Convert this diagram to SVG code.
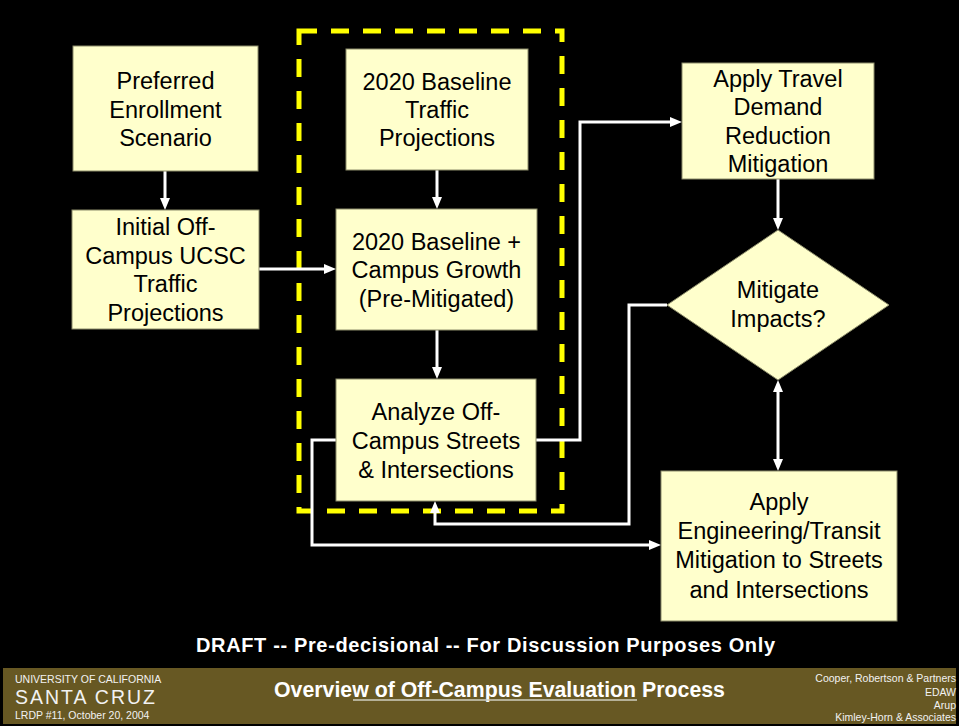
<svg xmlns="http://www.w3.org/2000/svg" width="959" height="726" viewBox="0 0 959 726">
<defs>
<style>
.box{fill:#FFFFCC;stroke:#8C8C6A;stroke-width:1}
.t{font-family:"Liberation Sans",Arial,sans-serif;font-size:23.5px;fill:#000;text-anchor:middle}
.c{fill:none;stroke:#FFFFFF;stroke-width:3}
.f{font-family:"Liberation Sans",Arial,sans-serif;fill:#F2F2F2}
.b{font-family:"Liberation Sans",Arial,sans-serif;font-weight:bold;fill:#FFFFFF}
</style>
<marker id="ah" viewBox="0 0 12 10" refX="2" refY="5" markerWidth="12" markerHeight="10" markerUnits="userSpaceOnUse" orient="auto-start-reverse">
<path d="M0,0 L12,5 L0,10 Z" fill="#FFFFFF"/>
</marker>
</defs>
<rect x="0" y="0" width="959" height="726" fill="#000000"/>

<rect id="group-box" x="299" y="31" width="263" height="480" fill="none" stroke="#FFFF00" stroke-width="5" stroke-dasharray="18 14"/>

<g id="connectors">
<path class="c" d="M165 171 V200" marker-end="url(#ah)"/>
<path class="c" d="M437 170 V199" marker-end="url(#ah)"/>
<path class="c" d="M259 269 H326" marker-end="url(#ah)"/>
<path class="c" d="M437 330 V369" marker-end="url(#ah)"/>
<path class="c" d="M536 440 H580 V122 H672" marker-end="url(#ah)"/>
<path class="c" d="M778 179 V220" marker-end="url(#ah)"/>
<path class="c" d="M778 390 V461" marker-start="url(#ah)" marker-end="url(#ah)"/>
<path class="c" d="M667 305 H629 V524 H435 V511" marker-end="url(#ah)"/>
<path class="c" d="M336 440 H312 V545 H651" marker-end="url(#ah)"/>
</g>

<g id="preferred">
<rect class="box" x="73" y="46" width="185" height="125"/>
<text class="t" x="165.5" y="89">Preferred</text>
<text class="t" x="165.5" y="118">Enrollment</text>
<text class="t" x="165.5" y="146">Scenario</text>
</g>

<g id="initial">
<rect class="box" x="72" y="210" width="187" height="119"/>
<text class="t" x="165.5" y="235">Initial Off-</text>
<text class="t" x="165.5" y="264">Campus UCSC</text>
<text class="t" x="165.5" y="292">Traffic</text>
<text class="t" x="165.5" y="321">Projections</text>
</g>

<g id="baseline">
<rect class="box" x="346" y="49" width="182" height="121"/>
<text class="t" x="437" y="90">2020 Baseline</text>
<text class="t" x="437" y="118">Traffic</text>
<text class="t" x="437" y="146">Projections</text>
</g>

<g id="growth">
<rect class="box" x="336" y="209" width="201" height="121"/>
<text class="t" x="436.5" y="250">2020 Baseline +</text>
<text class="t" x="436.5" y="278">Campus Growth</text>
<text class="t" x="436.5" y="307">(Pre-Mitigated)</text>
</g>

<g id="analyze">
<rect class="box" x="336" y="379" width="200" height="122"/>
<text class="t" x="436" y="420">Analyze Off-</text>
<text class="t" x="436" y="449">Campus Streets</text>
<text class="t" x="436" y="478">&amp; Intersections</text>
</g>

<g id="travel">
<rect class="box" x="682" y="63" width="192" height="116"/>
<text class="t" x="778" y="87">Apply Travel</text>
<text class="t" x="778" y="115">Demand</text>
<text class="t" x="778" y="144">Reduction</text>
<text class="t" x="778" y="172">Mitigation</text>
</g>

<g id="decision">
<polygon class="box" points="778,230 889,305 778,380 667,305"/>
<text class="t" x="778" y="298">Mitigate</text>
<text class="t" x="778" y="327">Impacts?</text>
</g>

<g id="engineering">
<rect class="box" x="661" y="471" width="236" height="150"/>
<text class="t" x="779" y="510">Apply</text>
<text class="t" x="779" y="539">Engineering/Transit</text>
<text class="t" x="779" y="568">Mitigation to Streets</text>
<text class="t" x="779" y="598">and Intersections</text>
</g>

<text class="b" x="196" y="652" font-size="20" textLength="579" lengthAdjust="spacing">DRAFT -- Pre-decisional -- For Discussion Purposes Only</text>

<g id="footer">
<rect x="3" y="668" width="953" height="56" fill="#675823"/>
<text class="f" x="15" y="683" font-size="10.5">UNIVERSITY OF CALIFORNIA</text>
<text class="f" x="15" y="704" font-size="19.5" textLength="140" lengthAdjust="spacing">SANTA  CRUZ</text>
<text class="f" x="15" y="719" font-size="10.5">LRDP #11, October 20, 2004</text>
<text class="b" x="274" y="697" font-size="21.3">Overview of Off-Campus Evaluation Process</text>
<line x1="353" y1="700" x2="637" y2="700" stroke="#CFCFC0" stroke-width="1.5"/>
<text class="f" x="956" y="682" font-size="10.5" text-anchor="end" fill="#E6E6E6">Cooper, Robertson &amp; Partners</text>
<text class="f" x="956" y="696" font-size="10.5" text-anchor="end" fill="#E6E6E6">EDAW</text>
<text class="f" x="956" y="709" font-size="10.5" text-anchor="end" fill="#E6E6E6">Arup</text>
<text class="f" x="956" y="721" font-size="10.5" text-anchor="end" fill="#E6E6E6">Kimley-Horn &amp; Associates</text>
</g>
</svg>
